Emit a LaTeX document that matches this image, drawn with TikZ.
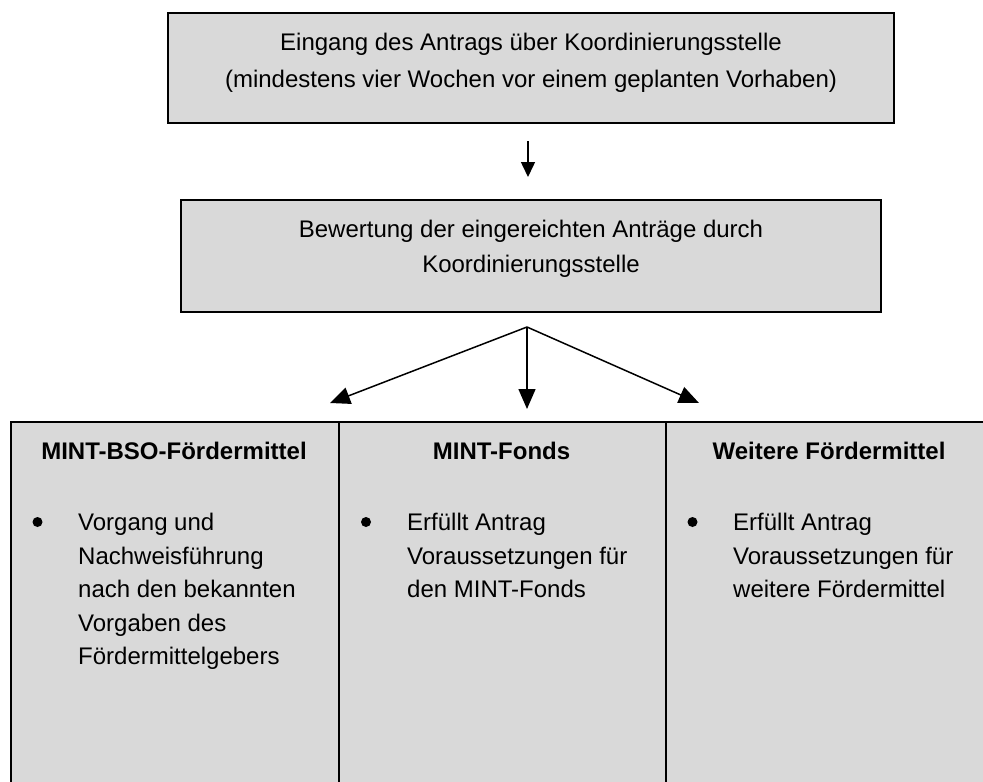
\documentclass[tikz,border=0pt]{standalone}
\usepackage{fontspec}
\setmainfont{Liberation Sans}
\usetikzlibrary{arrows.meta}
\definecolor{boxgray}{HTML}{D9D9D9}
\begin{document}
\begin{tikzpicture}[x=1pt,y=-1pt,
  box/.style={draw=black,line width=1.5pt,fill=boxgray,rectangle,inner sep=0pt},
  txt/.style={anchor=base,inner sep=0pt,font=\fontsize{24}{28}\selectfont},
  ltxt/.style={anchor=base west,inner sep=0pt,font=\fontsize{24}{28}\selectfont},
  hdr/.style={anchor=base,inner sep=0pt,font=\fontsize{24}{28}\selectfont\bfseries},
  arr/.style={line width=1.5pt,-{Triangle[length=20pt,width=17pt]}},
  arrsmall/.style={line width=1.5pt,-{Triangle[length=15pt,width=14pt]}},
  bul/.style={circle,fill=black,inner sep=0pt,minimum size=10pt}]
\useasboundingbox (0,0) rectangle (983,782);
\clip (0,0) rectangle (983,782);
% top boxes
\node[box,minimum width=726pt,minimum height=110pt] (b1) at (531,68) {};
\node[txt] (b1l1) at (531,50) {Eingang des Antrags über Koordinierungsstelle};
\node[txt] (b1l2) at (531,87) {(mindestens vier Wochen vor einem geplanten Vorhaben)};
\node[box,minimum width=700pt,minimum height=112pt] (b2) at (531,256) {};
\node[txt] (b2l1) at (531,237) {Bewertung der eingereichten Anträge durch};
\node[txt] (b2l2) at (531,272) {Koordinierungsstelle};
% arrows
\coordinate (a0s) at (528,141);
\coordinate (a0e) at (528,177);
\draw[arrsmall] (a0s) -- (a0e);
\coordinate (apex) at (527,327);
\coordinate (t1) at (330,403);
\coordinate (t2) at (527,409);
\coordinate (t3) at (699,403);
\draw[arr] (apex) -- (t1);
\draw[arr] (apex) -- (t2);
\draw[arr] (apex) -- (t3);
% table cells
\node[box,anchor=north west,minimum width=328pt,minimum height=420pt] (c1) at (10,421) {};
\node[box,anchor=north west,minimum width=327pt,minimum height=420pt] (c2) at (338,421) {};
\node[box,anchor=north west,minimum width=328pt,minimum height=420pt] (c3) at (665,421) {};
% headers
\node[hdr] (h1) at (174,459) {MINT-BSO-Fördermittel};
\node[hdr] (h2) at (501.5,459) {MINT-Fonds};
\node[hdr] (h3) at (829,459) {Weitere Fördermittel};
% bullets
\node[bul] (p1) at (37.5,522) {};
\node[bul] (p2) at (366,522) {};
\node[bul] (p3) at (692.5,522) {};
% cell 1 text
\node[ltxt] (c1l1) at (78,530) {Vorgang und};
\node[ltxt] (c1l2) at (78,564) {Nachweisführung};
\node[ltxt] (c1l3) at (78,597) {nach den bekannten};
\node[ltxt] (c1l4) at (78,631) {Vorgaben des};
\node[ltxt] (c1l5) at (78,664) {Fördermittelgebers};
% cell 2 text
\node[ltxt] (c2l1) at (407,530) {Erfüllt Antrag};
\node[ltxt] (c2l2) at (407,564) {Voraussetzungen für};
\node[ltxt] (c2l3) at (407,597) {den MINT-Fonds};
% cell 3 text
\node[ltxt] (c3l1) at (733,530) {Erfüllt Antrag};
\node[ltxt] (c3l2) at (733,564) {Voraussetzungen für};
\node[ltxt] (c3l3) at (733,597) {weitere Fördermittel};
\end{tikzpicture}
\end{document}
